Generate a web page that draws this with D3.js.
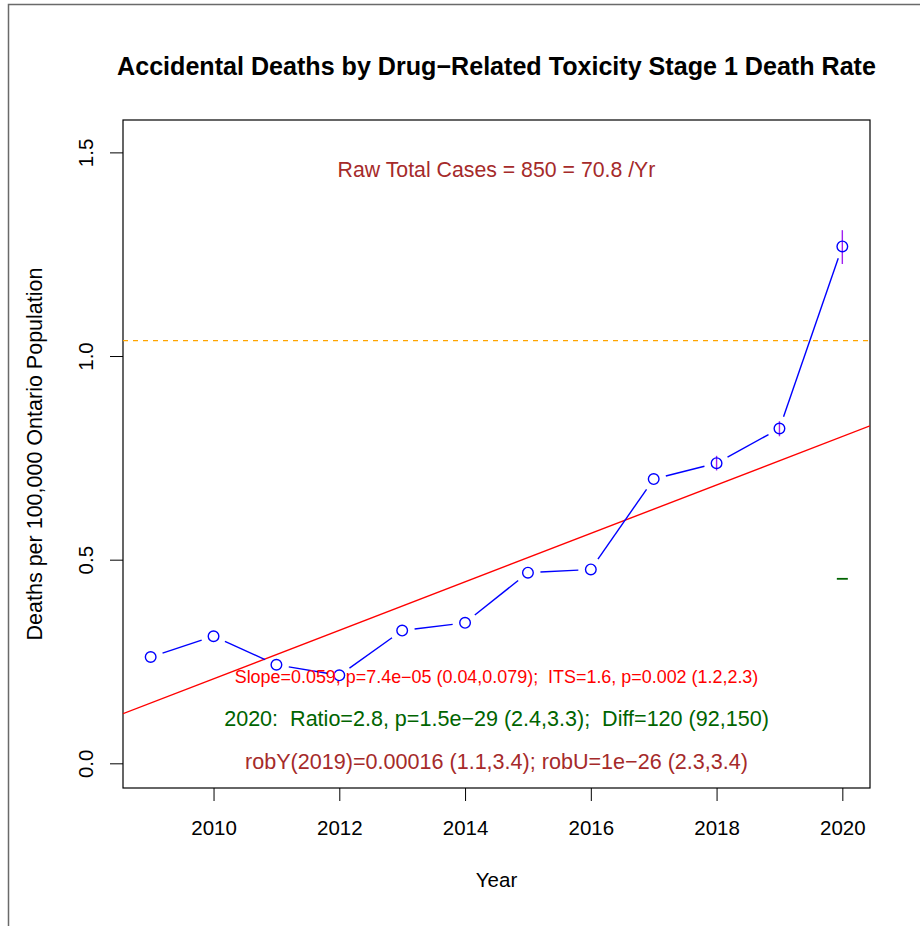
<!DOCTYPE html>
<html><head><meta charset="utf-8">
<script src="https://cdn.jsdelivr.net/npm/d3@7"></script>
<style>body{margin:0;background:#fff}svg{display:block}text{font-family:"Liberation Sans",Arial,Helvetica,sans-serif;white-space:pre}</style>
</head><body>
<script>
// ---- data ----
const years = [2009, 2010, 2011, 2012, 2013, 2014, 2015, 2016, 2017, 2018, 2019, 2020];
const rates = [0.261, 0.312, 0.242, 0.216, 0.326, 0.345, 0.468, 0.476, 0.698, 0.737, 0.822, 1.269];
const ciYears = [2018, 2019, 2020];
const ciLow = [0.719, 0.803, 1.226];
const ciHigh = [0.755, 0.840, 1.309];
const trendIntercept2009 = 0.148;
const trendSlope = 0.0595;
const refLevel = 1.038;
const diffMarkYear = 2020;
const diffMarkValue = 0.453;
const xTicks = [2010, 2012, 2014, 2016, 2018, 2020];
const yTicks = [0.0, 0.5, 1.0, 1.5];
const yTickLabels = ["0.0", "0.5", "1.0", "1.5"];
const titleText = "Accidental Deaths by Drug\u2212Related Toxicity Stage 1 Death Rate";
const rawText = "Raw Total Cases = 850 = 70.8 /Yr";
const redText = "Slope=0.059, p=7.4e\u221205 (0.04,0.079);  ITS=1.6, p=0.002 (1.2,2.3)";
const greenText = "2020:  Ratio=2.8, p=1.5e\u221229 (2.4,3.3);  Diff=120 (92,150)";
const brownText = "robY(2019)=0.00016 (1.1,3.4); robU=1e\u221226 (2.3,3.4)";
const xLabel = "Year";
const yLabel = "Deaths per 100,000 Ontario Population";

// ---- layout ----
const W = 920, H = 926;
const L = 123, R = 870, T = 120, B = 788;
const FS = 20.5;
const svg = d3.select("body").append("svg").attr("width", W).attr("height", H);

const x = d3.scaleLinear().domain([2008.56, 2020.44]).range([L, R]);
const y = d3.scaleLinear().domain([-0.0606, 1.5795]).range([B, T]);

// outer figure frame
svg.append("path").attr("d", `M8.5,${H} L8.5,4.5 L${W},4.5`).attr("fill", "none")
  .attr("stroke", "#6a6a6a").attr("stroke-width", 1.5);

svg.append("clipPath").attr("id", "clip").append("rect")
  .attr("x", L).attr("y", T).attr("width", R - L).attr("height", B - T);

function fit(sel, target) {
  const n = sel.node();
  const fs = parseFloat(sel.attr("font-size"));
  const len = n.getComputedTextLength();
  sel.attr("font-size", (fs * target / len).toFixed(2));
  return sel;
}

// axes
const xAxis = svg.append("g").attr("transform", `translate(0,${B})`)
  .call(d3.axisBottom(x).tickValues(xTicks).tickFormat(d3.format("d")).tickSize(13).tickPadding(19));
xAxis.select(".domain").remove();
xAxis.selectAll("line").attr("stroke", "#000");
xAxis.selectAll("text").attr("font-size", FS).attr("fill", "#000");

const yAxis = svg.append("g").attr("transform", `translate(${L},0)`)
  .call(d3.axisLeft(y).tickValues(yTicks).tickFormat((d, i) => yTickLabels[i]).tickSize(13));
yAxis.select(".domain").remove();
yAxis.selectAll("line").attr("stroke", "#000");
yAxis.selectAll("text").remove();
yAxis.selectAll(".tick").append("text")
  .attr("transform", "translate(-30,0) rotate(-90)")
  .attr("text-anchor", "middle").attr("font-size", FS).attr("fill", "#000")
  .text((d, i) => yTickLabels[i]);

// plot box
svg.append("rect").attr("x", L).attr("y", T).attr("width", R - L).attr("height", B - T)
  .attr("fill", "none").attr("stroke", "#000").attr("stroke-width", 1.2);

const plot = svg.append("g").attr("clip-path", "url(#clip)");

// reference dashed line
plot.append("line").attr("x1", L).attr("x2", R).attr("y1", y(refLevel)).attr("y2", y(refLevel))
  .attr("stroke", "#FFA500").attr("stroke-width", 1.3).attr("stroke-dasharray", "5,5");

// trend line
const xd = x.domain();
plot.append("line")
  .attr("x1", x(xd[0])).attr("y1", y(trendIntercept2009 + trendSlope * (xd[0] - 2009)))
  .attr("x2", x(xd[1])).attr("y2", y(trendIntercept2009 + trendSlope * (xd[1] - 2009)))
  .attr("stroke", "#FF0000").attr("stroke-width", 1.4);

// connecting segments with gaps (type="b")
const gap = 12.5;
const pts = years.map((yr, i) => [x(yr), y(rates[i])]);
for (let i = 0; i < pts.length - 1; i++) {
  const [x0, y0] = pts[i], [x1, y1] = pts[i + 1];
  const dx = x1 - x0, dy = y1 - y0, d = Math.hypot(dx, dy);
  if (d <= 2 * gap) continue;
  const ux = dx / d, uy = dy / d;
  plot.append("line")
    .attr("x1", x0 + ux * gap).attr("y1", y0 + uy * gap)
    .attr("x2", x1 - ux * gap).attr("y2", y1 - uy * gap)
    .attr("stroke", "#0000FF").attr("stroke-width", 1.4);
}

// CI bars
plot.selectAll("line.ci").data(ciYears).enter().append("line").attr("class", "ci")
  .attr("x1", d => x(d)).attr("x2", d => x(d))
  .attr("y1", (d, i) => y(ciLow[i])).attr("y2", (d, i) => y(ciHigh[i]))
  .attr("stroke", "#A020F0").attr("stroke-width", 1.4);

// points
plot.selectAll("circle").data(years).enter().append("circle")
  .attr("cx", d => x(d)).attr("cy", (d, i) => y(rates[i])).attr("r", 5.3)
  .attr("fill", "none").attr("stroke", "#0000FF").attr("stroke-width", 1.4);

// green marker
plot.append("line").attr("x1", x(diffMarkYear) - 5.5).attr("x2", x(diffMarkYear) + 5.5)
  .attr("y1", y(diffMarkValue)).attr("y2", y(diffMarkValue))
  .attr("stroke", "#006400").attr("stroke-width", 1.8);

// texts
const cx = (L + R) / 2;
fit(svg.append("text").attr("x", cx).attr("y", 75).attr("text-anchor", "middle")
  .attr("font-weight", "bold").attr("font-size", 21).attr("fill", "#000").text(titleText), 759);
fit(svg.append("text").attr("x", cx).attr("y", 177).attr("text-anchor", "middle")
  .attr("font-size", 17).attr("fill", "#A52A2A").text(rawText), 318);
fit(svg.append("text").attr("x", cx).attr("y", 683).attr("text-anchor", "middle")
  .attr("font-size", 15).attr("fill", "#FF0000").text(redText), 524);
fit(svg.append("text").attr("x", cx).attr("y", 726).attr("text-anchor", "middle")
  .attr("font-size", 17).attr("fill", "#006400").text(greenText), 545);
fit(svg.append("text").attr("x", cx).attr("y", 769).attr("text-anchor", "middle")
  .attr("font-size", 17).attr("fill", "#A52A2A").text(brownText), 503);
svg.append("text").attr("x", cx).attr("y", 887).attr("text-anchor", "middle")
  .attr("font-size", FS).attr("fill", "#000").text(xLabel);
fit(svg.append("text").attr("transform", `translate(42,${(T + B) / 2}) rotate(-90)`)
  .attr("text-anchor", "middle").attr("font-size", 17.5).attr("fill", "#000").text(yLabel), 373);
</script>
</body></html>
